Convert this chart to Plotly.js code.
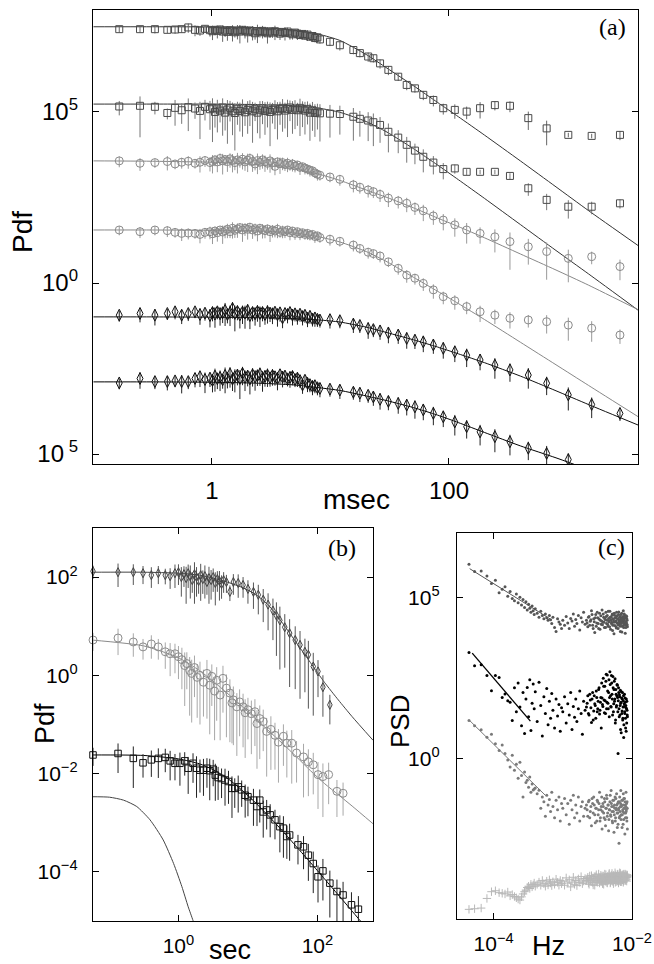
<!DOCTYPE html>
<html><head><meta charset="utf-8">
<script src="https://cdn.plot.ly/plotly-3.0.1.min.js"></script>
<style>html,body{margin:0;padding:0;background:#fff;}#chart{width:654px;height:964px;}</style>
</head><body><div id="chart"></div>
<script>
// ================= Panel (a): Pdf vs msec =================
const msecBins = [0.165,0.247,0.330,0.420,0.488,0.555,0.631,0.719,0.792,0.873,
 0.962,1.01,1.06,1.11,1.17,1.23,1.29,1.35,1.42,1.49,
 1.56,1.64,1.72,1.81,1.90,2.00,2.09,2.20,2.31,2.42,
 2.54,2.67,2.80,2.94,3.09,3.24,3.40,3.57,3.75,3.94,
 4.13,4.34,4.55,4.78,5.02,5.26,5.53,5.81,6.09,6.40,
 6.71,7.05,7.39,7.76,8.15,9.9,12.0,15.6,17.7,20.8,
 23.0,26.2,30.8,37.3,44.0,51.6,60.7,73.8,89.5,112,
 141,183,244,327,467,667,1016,1600,2773];
// values stored as log10(Pdf)
const pdfA1_log10 = [7.42,7.42,7.42,7.40,7.41,7.42,7.47,7.40,7.38,7.43,
 7.39,7.36,7.40,7.37,7.41,7.35,7.38,7.34,7.39,7.36,
 7.33,7.38,7.35,7.40,7.37,7.33,7.38,7.35,7.30,7.36,
 7.33,7.37,7.34,7.30,7.35,7.32,7.36,7.33,7.29,7.34,
 7.31,7.35,7.30,7.27,7.32,7.29,7.25,7.28,7.23,7.26,
 7.20,7.22,7.16,7.18,7.12,7.05,6.95,6.81,6.72,6.62,
 6.57,6.42,6.23,6.03,5.79,5.69,5.50,5.35,5.11,5.06,
 5.01,5.11,5.20,5.18,4.82,4.52,4.33,4.30,4.33];
const pdfA2_log10 = [5.16,5.18,5.15,4.97,5.12,5.05,5.14,5.10,5.03,5.15,
 5.08,5.12,5.00,5.10,5.04,5.13,4.98,5.07,5.12,5.02,
 4.97,5.08,5.03,5.10,4.99,5.06,5.11,5.02,5.08,4.98,
 5.05,5.10,5.03,5.07,5.00,5.06,5.10,5.02,5.08,5.12,
 5.04,5.09,5.13,5.06,5.10,5.05,5.12,5.08,5.04,5.09,
 4.98,5.05,4.97,5.01,4.96,4.95,4.94,4.86,4.80,4.75,
 4.70,4.62,4.42,4.25,4.04,3.87,3.69,3.52,3.33,3.35,
 3.25,3.25,3.25,3.13,2.77,2.43,2.23,2.23,2.33];
const pdfA3_log10 = [3.57,3.50,3.52,3.55,3.48,3.53,3.56,3.50,3.53,3.58,
 3.52,3.55,3.60,3.54,3.64,3.57,3.61,3.55,3.63,3.58,
 3.52,3.60,3.56,3.62,3.54,3.59,3.64,3.55,3.48,3.58,
 3.53,3.60,3.55,3.50,3.57,3.52,3.41,3.54,3.49,3.52,
 3.46,3.50,3.44,3.48,3.42,3.45,3.38,3.40,3.36,3.33,
 3.30,3.28,3.22,3.18,3.15,3.10,3.03,2.87,2.80,2.72,
 2.67,2.59,2.48,2.40,2.33,2.21,2.11,1.96,1.84,1.70,
 1.55,1.45,1.35,1.21,1.06,0.92,0.72,0.77,0.48];
const pdfA4_log10 = [1.55,1.50,1.55,1.53,1.48,1.45,1.46,1.45,1.42,1.48,
 1.50,1.44,1.52,1.47,1.55,1.49,1.53,1.57,1.50,1.60,
 1.54,1.58,1.62,1.55,1.60,1.57,1.63,1.55,1.59,1.52,
 1.60,1.56,1.53,1.58,1.50,1.55,1.52,1.57,1.48,1.53,
 1.50,1.55,1.47,1.52,1.45,1.50,1.44,1.47,1.42,1.45,
 1.40,1.42,1.36,1.38,1.33,1.28,1.22,1.11,1.01,0.90,
 0.86,0.79,0.62,0.43,0.23,0.14,-0.01,-0.20,-0.40,-0.52,
 -0.69,-0.84,-0.94,-1.03,-1.08,-1.13,-1.23,-1.32,-1.52];
const pdfA5_log10 = [-0.94,-0.89,-0.94,-0.89,-0.84,-0.94,-0.89,-0.84,-0.92,-0.88,
 -0.95,-0.86,-0.91,-0.84,-0.90,-0.87,-0.80,-0.92,-0.86,-0.74,
 -0.89,-0.83,-0.93,-0.85,-0.88,-0.80,-0.95,-0.86,-0.90,-0.83,
 -0.89,-0.86,-0.92,-0.84,-0.88,-0.90,-0.85,-0.93,-0.87,-1.02,
 -0.89,-0.92,-0.86,-0.94,-0.90,-0.96,-0.91,-0.98,-0.94,-1.03,
 -0.97,-1.05,-1.02,-1.06,-1.08,-1.07,-1.10,-1.20,-1.24,-1.33,
 -1.36,-1.40,-1.46,-1.52,-1.62,-1.67,-1.72,-1.81,-1.91,-2.01,
 -2.11,-2.25,-2.40,-2.54,-2.69,-2.93,-3.27,-3.55,-3.81];
const pdfA6_log10 = [-2.92,-2.79,-2.88,-2.88,-2.86,-2.88,-2.88,-2.79,-2.74,-2.82,
 -2.78,-2.85,-2.72,-2.80,-2.76,-2.83,-2.70,-2.78,-2.66,-2.81,
 -2.74,-2.69,-2.79,-2.64,-2.76,-2.72,-2.80,-2.68,-2.75,-2.71,
 -2.66,-2.78,-2.73,-2.69,-2.77,-2.70,-2.74,-2.79,-2.68,-2.75,
 -2.72,-2.80,-2.76,-2.73,-2.82,-2.78,-2.85,-2.98,-2.84,-2.93,
 -2.97,-3.02,-3.00,-3.06,-3.08,-3.10,-3.13,-3.19,-3.22,-3.28,
 -3.33,-3.40,-3.46,-3.52,-3.57,-3.62,-3.71,-3.81,-3.91,-4.06,
 -4.20,-4.35,-4.49,-4.64,-4.83,-4.98,-5.16,null,null];
// relative (linear) errors sigma/Pdf
const relErrA1 = [0.2,0.2,0.25,0.2,0.25,0.2,0.3,0.35,0.3,0.25,
 0.35,0.45,0.3,0.4,0.3,0.5,0.35,0.45,0.3,0.5,
 0.3,0.45,0.55,0.3,0.4,0.5,0.3,0.45,0.35,0.55,
 0.3,0.4,0.3,0.5,0.35,0.3,0.45,0.3,0.35,0.3,
 0.4,0.3,0.35,0.3,0.25,0.35,0.25,0.3,0.25,0.35,
 0.25,0.3,0.25,0.3,0.25,0.25,0.3,0.25,0.25,0.3,
 0.25,0.3,0.3,0.25,0.3,0.25,0.3,0.35,0.35,0.45,
 0.4,0.5,0.3,0.35,0.55,0.68,0.15,0.15,0.3];
const relErrA2 = [0.45,0.88,0.4,0.35,0.7,0.6,0.8,0.5,0.85,0.6,
 0.75,0.9,0.65,0.8,0.55,0.85,0.7,0.9,0.6,0.8,
 0.92,0.65,0.75,0.85,0.6,0.8,0.7,0.88,0.55,0.75,
 0.85,0.65,0.8,0.7,0.9,0.6,0.75,0.85,0.65,0.8,
 0.7,0.85,0.6,0.8,0.75,0.65,0.85,0.7,0.8,0.65,
 0.85,0.75,0.8,0.7,0.85,0.8,0.75,0.8,0.7,0.75,
 0.8,0.7,0.75,0.65,0.7,0.6,0.65,0.55,0.5,0.3,
 0.2,0.15,0.15,0.2,0.4,0.5,0.55,0.4,0.3];
const relErrA3 = [0.35,0.4,0.3,0.45,0.3,0.35,0.4,0.3,0.5,0.35,
 0.45,0.55,0.35,0.5,0.4,0.6,0.35,0.5,0.45,0.55,
 0.4,0.6,0.35,0.5,0.45,0.55,0.4,0.5,0.35,0.6,
 0.4,0.45,0.5,0.35,0.55,0.4,0.45,0.35,0.5,0.4,
 0.35,0.45,0.3,0.4,0.35,0.3,0.4,0.3,0.35,0.3,
 0.35,0.3,0.3,0.35,0.3,0.3,0.35,0.4,0.35,0.4,
 0.35,0.4,0.45,0.4,0.45,0.4,0.5,0.45,0.5,0.55,
 0.6,0.5,0.65,0.85,0.7,0.85,0.8,0.4,0.6];
const relErrA4 = [0.3,0.35,0.3,0.35,0.3,0.4,0.35,0.3,0.45,0.35,
 0.4,0.5,0.35,0.45,0.3,0.55,0.4,0.45,0.35,0.5,
 0.4,0.45,0.35,0.55,0.4,0.5,0.35,0.45,0.4,0.5,
 0.35,0.45,0.4,0.35,0.5,0.4,0.35,0.45,0.3,0.4,
 0.35,0.3,0.4,0.3,0.35,0.3,0.35,0.3,0.3,0.35,
 0.3,0.3,0.35,0.3,0.3,0.35,0.3,0.35,0.3,0.35,
 0.3,0.35,0.3,0.35,0.4,0.35,0.4,0.45,0.4,0.45,
 0.4,0.5,0.45,0.5,0.4,0.55,0.65,0.6,0.45];
const relErrA5 = [0.35,0.45,0.5,0.35,0.4,0.45,0.4,0.35,0.5,0.4,
 0.55,0.45,0.6,0.4,0.55,0.5,0.65,0.45,0.6,0.5,
 0.7,0.45,0.6,0.55,0.65,0.5,0.6,0.45,0.55,0.5,
 0.6,0.45,0.5,0.55,0.45,0.5,0.4,0.55,0.45,0.5,
 0.4,0.45,0.4,0.5,0.4,0.45,0.4,0.45,0.4,0.45,
 0.4,0.4,0.45,0.4,0.4,0.45,0.4,0.45,0.4,0.5,
 0.4,0.45,0.5,0.45,0.5,0.45,0.5,0.45,0.5,0.5,
 0.55,0.5,0.6,0.55,0.6,0.55,0.65,0.6,0.4];
const relErrA6 = [0.35,0.5,0.4,0.45,0.35,0.55,0.4,0.45,0.5,0.6,
 0.45,0.55,0.65,0.5,0.6,0.45,0.7,0.5,0.6,0.55,
 0.65,0.5,0.75,0.55,0.6,0.5,0.65,0.55,0.6,0.5,
 0.55,0.6,0.5,0.55,0.45,0.5,0.45,0.55,0.45,0.5,
 0.45,0.4,0.5,0.45,0.4,0.45,0.4,0.45,0.4,0.45,
 0.4,0.45,0.4,0.4,0.45,0.4,0.45,0.4,0.45,0.4,
 0.45,0.5,0.45,0.5,0.5,0.55,0.5,0.55,0.5,0.6,
 0.55,0.6,0.65,0.6,0.55,0.65,0.5,0,0];
// fitted curves, log10(Pdf)
const fitMsec = [0.1,0.3,1,2,3,5,8,12,20,30,50,80,120,200,400,800,1500,4000];
const fitA1_log10 = [7.49,7.49,7.486,7.47,7.45,7.39,7.27,7.09,6.68,6.28,5.77,5.28,4.86,4.32,3.57,2.81,2.12,1.08];
const fitA2_log10 = [5.23,5.23,5.23,5.22,5.21,5.18,5.11,4.99,4.72,4.41,3.93,3.45,3.02,2.47,1.71,0.95,0.27,-0.81];
const fitA3_log10 = [3.57,3.56,3.53,3.48,3.43,3.33,3.18,3.00,2.72,2.50,2.20,1.90,1.65,1.32,0.85,0.38,-0.06,-0.79];
const fitA4_log10 = [1.55,1.55,1.54,1.53,1.51,1.46,1.35,1.20,0.92,0.62,0.17,-0.24,-0.60,-1.07,-1.73,-2.39,-2.99,-3.92];
const fitA5_log10 = [-0.99,-0.99,-1.00,-1.01,-1.02,-1.04,-1.08,-1.14,-1.29,-1.45,-1.66,-1.87,-2.07,-2.33,-2.72,-3.15,-3.55,-4.16];
const fitA6_log10 = [-2.89,-2.89,-2.90,-2.92,-2.94,-2.98,-3.06,-3.14,-3.30,-3.44,-3.64,-3.86,-4.08,-4.37,-4.76,-5.11,-5.45,-5.95];

// ================= Panel (b): Pdf vs sec =================
const secB1 = [0.0589,0.135,0.224,0.309,0.407,0.513,0.646,0.759,0.891,1.00,
 1.10,1.20,1.29,1.38,1.48,1.58,1.70,1.82,1.95,2.09,2.24,2.40,2.57,2.75,2.95,3.16,3.39,3.63,3.89,4.17,4.47,4.90,
 5.50,6.17,7.24,8.51,10.0,12.0,14.1,16.6,19.5,22.9,25.7,28.8,33.9,39.8,47.9,56.2,66.1,74.1,87.1,102,120,151];
const pdfB1_log10 = [2.12,2.10,2.10,2.08,2.04,2.08,2.04,2.02,2.08,2.10,
 2.00,2.06,1.98,2.08,2.02,1.94,2.06,2.00,1.92,2.04,1.96,2.02,1.90,1.98,1.94,2.00,1.88,1.96,1.92,1.86,1.94,1.90,
 1.70,1.90,1.88,1.84,1.76,1.70,1.64,1.54,1.44,1.32,1.22,1.12,0.98,0.86,0.72,0.62,0.48,0.42,0.18,0.08,-0.24,-0.60];
const relErrB1 = [0.3,0.5,0.45,0.4,0.45,0.4,0.35,0.45,0.5,0.45,
 0.6,0.45,0.7,0.5,0.65,0.45,0.75,0.6,0.45,0.7,0.5,0.65,0.45,0.7,0.6,0.5,0.65,0.45,0.6,0.5,0.45,0.4,
 0.35,0.45,0.5,0.45,0.5,0.55,0.6,0.65,0.7,0.75,0.85,0.9,0.85,0.92,0.9,0.92,0.85,0.92,0.9,0.7,0.75,0.6];
const secB2 = [0.0589,0.135,0.224,0.309,0.407,0.513,0.646,0.759,0.891,1.00,
 1.12,1.23,1.32,1.45,1.55,1.70,1.86,2.04,2.29,2.57,
 2.82,3.02,3.31,3.55,3.98,4.37,4.90,5.50,5.89,6.17,
 6.92,7.59,8.51,9.12,10.0,11.2,12.6,13.5,14.8,16.6,
 18.6,21.4,24.5,27.5,32.4,36.3,42.7,50.1,63.1,74.1,
 87.1,102,120,145,191,234];
const pdfB2_log10 = [0.72,0.76,0.68,0.58,0.64,0.58,0.48,0.44,0.44,0.38,
 0.32,0.20,0.24,0.10,0.04,0.16,-0.04,0.00,-0.14,0.04,
 -0.20,-0.02,-0.32,-0.10,-0.40,-0.06,-0.26,-0.36,-0.56,-0.50,
 -0.64,-0.54,-0.64,-0.76,-0.70,-0.78,-0.74,-0.98,-0.88,-0.94,
 -1.14,-1.10,-1.22,-1.36,-1.24,-1.38,-1.38,-1.58,-1.66,-1.76,
 -1.82,-2.02,-2.06,-2.02,-2.36,-2.40];
const relErrB2 = [0.4,0.55,0.5,0.45,0.5,0.45,0.55,0.65,0.6,0.65,
 0.75,0.85,0.7,0.88,0.9,0.75,0.85,0.9,0.8,0.88,
 0.9,0.75,0.9,0.85,0.88,0.8,0.9,0.9,0.85,0.88,
 0.9,0.8,0.85,0.88,0.75,0.85,0.8,0.88,0.85,0.75,
 0.88,0.85,0.8,0.85,0.75,0.8,0.85,0.75,0.85,0.8,
 0.75,0.8,0.85,0.75,0.7,0.65];
const secB3 = [0.0589,0.135,0.224,0.309,0.407,0.513,0.646,0.759,0.891,1.05,
 1.23,1.38,1.62,1.82,2.04,2.29,2.57,2.82,3.16,3.39,
 3.72,4.17,4.68,5.25,5.89,6.46,7.24,8.13,9.12,10.0,
 12.0,13.5,14.8,16.6,18.6,20.9,24.5,28.8,32.4,36.3,
 39.8,52.5,63.1,74.1,87.1,102,120,151,191,234,
 309,389];
const pdfB3_log10 = [-1.62,-1.59,-1.69,-1.78,-1.72,-1.69,-1.67,-1.74,-1.79,-1.79,
 -1.74,-1.89,-1.79,-1.89,-1.93,-1.93,-1.89,-1.94,-1.91,-2.03,
 -2.08,-2.10,-2.13,-2.16,-2.30,-2.30,-2.27,-2.33,-2.44,-2.47,
 -2.54,-2.67,-2.54,-2.78,-2.74,-2.84,-2.94,-3.08,-3.11,-3.28,
 -3.25,-3.45,-3.49,-3.66,-3.83,-4.10,-3.98,-4.23,-4.40,-4.47,
 -4.67,-4.76];
const relErrB3 = [0.4,0.6,0.75,0.5,0.55,0.6,0.5,0.6,0.55,0.65,
 0.5,0.7,0.6,0.75,0.65,0.7,0.6,0.75,0.55,0.7,
 0.65,0.6,0.7,0.65,0.75,0.6,0.7,0.55,0.65,0.6,
 0.7,0.6,0.65,0.7,0.6,0.65,0.6,0.7,0.75,0.65,
 0.7,0.6,0.65,0.7,0.75,0.7,0.75,0.8,0.75,0.85,
 0.8,0.85];
const fitSec = [0.0562,0.316,1,2,3.16,5.01,7.94,12.6,20,31.6,50.1,79.4,126,200,316,631];
const fitB1_log10 = [2.10,2.10,2.08,2.04,1.98,1.90,1.80,1.66,1.42,1.06,0.66,0.26,-0.14,-0.50,-0.84,-1.32];
const fitB2_log10 = [0.72,0.60,0.36,0.10,-0.12,-0.36,-0.61,-0.87,-1.13,-1.39,-1.66,-1.94,-2.20,-2.43,-2.66,-3.02];
const fitB3_log10 = [-1.62,-1.63,-1.70,-1.80,-1.92,-2.09,-2.32,-2.58,-2.87,-3.17,-3.49,-3.81,-4.14,-4.47,-4.80,-5.30];
const gaussSec = [0.055,0.102,0.162,0.251,0.389,0.603,0.851,1.12,1.38,1.62,1.8];
const gauss_log10 = [-2.47,-2.48,-2.54,-2.67,-2.94,-3.35,-3.83,-4.30,-4.71,-4.99,-5.2];

// ================= Panel (c): PSD vs Hz =================
const freqHz = [4.4e-5,5.3e-5,6.6e-5,8.0e-5,9.3e-5,1.06e-4,1.2e-4,1.33e-4,1.46e-4,1.6e-4,
 1.73e-4,1.86e-4,2.0e-4,2.13e-4,2.26e-4,2.4e-4,2.53e-4,2.66e-4,2.8e-4,2.93e-4,
 3.06e-4,3.2e-4,3.33e-4,3.46e-4,3.6e-4,3.73e-4,3.86e-4,4.0e-4,
 4.26e-4,4.53e-4,4.8e-4,5.06e-4,5.33e-4,5.6e-4,5.86e-4,6.13e-4,6.4e-4,6.66e-4,6.93e-4,7.2e-4,7.6e-4,8.0e-4,8.4e-4,8.8e-4,9.2e-4,9.6e-4,
 1.0e-3,1.06e-3,1.12e-3,1.18e-3,1.24e-3,1.3e-3,1.36e-3,1.42e-3,1.48e-3,1.54e-3,1.6e-3,1.68e-3,1.76e-3,1.84e-3,1.92e-3,2.0e-3,2.1e-3,
 2.2e-3,2.3e-3,2.4e-3,2.5e-3,2.6e-3,2.7e-3,2.8e-3,2.9e-3,3.0e-3,3.1e-3,3.2e-3,3.3e-3,3.4e-3,3.5e-3,3.6e-3,3.7e-3,3.8e-3,3.9e-3,
 4.0e-3,4.1e-3,4.2e-3,4.3e-3,4.4e-3,4.5e-3,4.6e-3,4.7e-3,4.8e-3,4.9e-3,5.0e-3,5.1e-3,5.2e-3,5.3e-3,5.4e-3,5.5e-3,5.6e-3,5.7e-3,
 5.8e-3,5.9e-3,6.0e-3,6.1e-3,6.2e-3,6.3e-3,6.4e-3,6.5e-3,6.6e-3,6.7e-3,6.8e-3,6.9e-3,7.0e-3,7.1e-3,7.2e-3,7.3e-3,7.4e-3,7.5e-3,
 7.6e-3,7.7e-3,7.8e-3,7.9e-3,8.0e-3,8.1e-3,8.2e-3,8.3e-3,8.4e-3,8.5e-3,8.6e-3];
const psdC1_log10 = [6.05,5.82,5.84,5.68,5.45,5.55,5.16,5.27,5.35,5.05,
 5.20,4.98,4.91,5.12,4.85,5.02,4.78,4.95,4.70,4.88,
 4.62,4.80,4.68,4.55,4.75,4.60,4.48,4.66,4.52,4.40,
 4.58,4.45,4.35,4.50,4.38,4.30,4.45,4.32,4.20,4.40,
 4.08,3.95,4.35,4.25,4.18,4.05,
 4.30,4.15,4.42,4.22,4.05,4.36,4.28,4.50,4.12,4.33,
 4.20,4.45,4.00,4.38,4.25,4.55,4.18,4.30,4.10,4.42,
 4.27,4.60,4.15,4.35,3.92,4.48,4.22,4.38,4.05,4.52,
 4.30,4.18,4.62,4.25,4.40,4.08,4.33,4.55,4.20,4.45,
 4.12,4.36,4.28,4.58,4.02,4.40,4.24,4.50,4.15,4.32,
 3.88,4.46,4.26,4.38,4.10,4.55,4.22,4.35,4.05,4.48,
 4.30,4.18,4.42,3.95,4.36,4.25,4.52,4.12,4.40,4.28,
 4.60,4.08,4.34,4.20,4.45,3.90,4.38,4.26,4.15,4.42,
 4.30,4.10];
const psdC2_log10 = [3.30,2.89,2.92,2.58,2.11,2.58,2.52,1.90,2.01,1.80,
 1.75,1.18,2.20,1.45,2.35,1.60,1.02,2.05,0.78,1.85,
 2.21,1.30,2.45,0.87,1.72,2.32,1.55,2.08,1.15,2.37,
 1.65,0.70,1.92,1.40,2.18,1.05,1.78,1.25,2.02,1.50,
 0.95,1.85,1.32,1.68,0.85,1.58,
 1.45,1.92,1.10,1.70,1.35,2.05,0.90,1.62,1.28,1.85,1.15,1.55,2.10,1.40,0.75,1.78,1.50,
 1.60,1.95,1.35,1.82,1.12,2.05,1.48,1.70,1.25,1.90,
 1.55,2.15,1.38,1.75,0.95,1.88,1.62,2.25,1.42,1.80,
 2.40,1.55,2.60,1.72,2.05,1.30,2.70,1.95,1.60,2.35,
 1.85,2.55,1.45,2.15,1.78,2.48,1.20,2.00,1.65,2.30,
 1.90,0.15,2.20,1.55,1.98,1.35,2.12,1.72,0.80,1.88,
 1.48,2.05,1.25,1.80,0.65,1.62,2.00,1.40,1.75,0.95,
 1.58,1.85,1.10,1.50,1.30];
const psdC3_log10 = [1.18,1.02,0.89,0.66,0.75,0.46,0.25,0.42,0.15,-0.05,
 -0.27,0.10,-0.37,-0.18,-0.62,-0.12,-0.53,-1.20,-0.42,-0.75,
 -0.68,-0.90,-0.58,-1.05,-0.80,-0.98,-0.95,-0.92,-1.10,-0.99,
 -1.55,-1.20,-1.35,-1.80,-1.15,-1.45,-1.28,-1.65,-1.05,-1.50,
 -1.85,-1.30,-1.60,-1.20,-1.95,-1.40,
 -1.55,-1.25,-1.75,-1.40,-2.05,-1.30,-1.60,-1.15,-1.85,-1.45,-1.70,-1.20,-1.95,-1.50,-1.35,-1.80,-1.55,
 -1.45,-1.80,-1.30,-1.65,-2.10,-1.40,-1.20,-1.75,-1.55,-1.95,
 -1.35,-1.60,-1.05,-1.85,-1.50,-2.20,-1.40,-1.70,-1.25,-1.90,
 -1.55,-1.15,-1.80,-1.45,-2.25,-1.60,-1.35,-1.75,-1.00,-1.50,
 -1.95,-1.30,-1.65,-2.30,-1.45,-1.20,-1.85,-1.55,-1.10,-1.70,
 -1.40,-2.05,-1.60,-2.64,-1.35,-1.80,-1.50,-1.00,-1.75,-1.45,
 -2.15,-1.30,-1.65,-1.10,-1.90,-1.55,-1.25,-2.35,-1.45,-1.70,
 -1.05,-1.60,-1.85,-1.35,-2.20];
const psdC4_log10 = [-4.70,-4.68,-4.66,-4.36,-4.15,-4.12,-4.18,-4.20,-4.22,-4.16,
 -4.28,-4.24,-4.30,-4.34,-4.38,-4.41,-4.31,-4.22,-4.15,-4.10,
 -4.02,-3.98,-4.05,-3.92,-4.00,-3.94,-3.88,-3.98,-3.92,-3.85,
 -3.95,-3.80,-3.90,-3.98,-3.82,-3.94,-3.78,-3.88,-3.96,-3.84,
 -3.92,-3.76,-3.86,-3.95,-3.80,-3.90,
 -3.82,-3.95,-3.72,-3.88,-3.78,-4.00,-3.85,-3.70,-3.92,-3.80,-3.96,-3.75,-3.86,-3.68,-3.90,-3.82,-3.74,
 -3.80,-3.70,-3.92,-3.78,-3.65,-3.86,-3.74,-3.95,-3.68,-3.82,
 -3.76,-3.60,-3.88,-3.72,-3.84,-3.66,-3.78,-3.92,-3.70,-3.82,
 -3.62,-3.76,-3.88,-3.68,-3.80,-3.58,-3.74,-3.86,-3.70,-3.64,
 -3.82,-3.76,-3.90,-3.66,-3.78,-3.56,-3.72,-3.84,-3.68,-3.80,
 -3.62,-3.74,-3.88,-3.70,-3.66,-3.82,-3.58,-3.76,-3.72,-3.84,
 -3.64,-3.78,-3.70,-3.86,-3.62,-3.74,-3.68,-3.80,-3.60,-3.76,
 -3.72,-3.66,-3.82,-3.70,-3.64];
// interleaved high-frequency bins (same spectra, between the bins above)
const freqHzFine = [2.25e-3,2.35e-3,2.45e-3,2.55e-3,2.65e-3,2.75e-3,2.85e-3,2.95e-3,3.05e-3,3.15e-3,
 3.25e-3,3.35e-3,3.45e-3,3.55e-3,3.65e-3,3.75e-3,3.85e-3,3.95e-3,4.05e-3,4.15e-3,
 4.25e-3,4.35e-3,4.45e-3,4.55e-3,4.65e-3,4.75e-3,4.85e-3,4.95e-3,5.05e-3,5.15e-3,
 5.25e-3,5.35e-3,5.45e-3,5.55e-3,5.65e-3,5.75e-3,5.85e-3,5.95e-3,6.05e-3,6.15e-3,
 6.25e-3,6.35e-3,6.45e-3,6.55e-3,6.65e-3,6.75e-3,6.85e-3,6.95e-3,7.05e-3,7.15e-3,
 7.25e-3,7.35e-3,7.45e-3,7.55e-3,7.65e-3,7.75e-3,7.85e-3,7.95e-3,8.05e-3,8.15e-3,
 8.25e-3,8.35e-3,8.45e-3,8.55e-3];
const psdC1fine_log10 = [4.22,4.40,4.15,4.32,4.48,4.05,4.26,4.38,4.12,4.55,
 4.20,4.34,4.02,4.44,4.28,4.16,4.50,4.24,4.36,4.08,
 4.42,4.30,4.18,4.58,4.26,4.10,4.40,4.32,4.20,4.46,
 3.98,4.35,4.24,4.52,4.14,4.38,4.28,4.06,4.44,4.22,
 4.34,4.16,4.56,4.26,4.40,4.12,4.30,4.48,4.20,3.94,
 4.36,4.24,4.42,4.14,4.32,4.50,4.18,4.38,4.26,4.08,
 4.44,4.22,4.34,4.16];
const psdC2fine_log10 = [1.72,1.40,2.00,1.58,1.85,1.20,1.95,1.65,2.10,1.45,
 1.78,2.20,1.50,1.90,2.35,1.68,2.50,1.82,2.25,1.40,
 2.62,1.75,2.10,1.55,2.45,1.90,2.30,1.62,2.58,2.00,
 1.35,2.20,1.70,2.40,1.85,1.10,2.15,1.60,1.95,2.28,
 1.45,1.80,2.05,1.30,1.92,1.65,0.90,1.75,2.08,1.40,
 1.85,1.20,1.60,1.95,1.05,1.70,1.45,1.88,1.25,1.65,
 0.85,1.55,1.78,1.35];
const psdC3fine_log10 = [-1.60,-1.35,-1.85,-1.50,-1.25,-1.70,-1.45,-2.00,-1.55,-1.30,
 -1.75,-1.40,-1.95,-1.60,-1.20,-1.65,-1.50,-1.85,-1.35,-2.10,
 -1.55,-1.25,-1.70,-1.45,-1.90,-1.60,-1.15,-1.80,-1.40,-1.65,
 -2.00,-1.50,-1.30,-1.75,-1.55,-1.95,-1.25,-1.60,-1.45,-2.15,
 -1.70,-1.35,-1.55,-1.85,-1.20,-1.65,-1.40,-1.90,-1.50,-1.30,
 -1.75,-1.60,-2.05,-1.45,-1.25,-1.70,-1.55,-1.35,-1.85,-1.50,
 -1.65,-1.40,-1.95,-1.55];
const psdC4fine_log10 = [-3.75,-3.88,-3.66,-3.82,-3.72,-3.94,-3.68,-3.80,-3.62,-3.86,
 -3.74,-3.70,-3.84,-3.64,-3.78,-3.90,-3.66,-3.76,-3.60,-3.82,
 -3.72,-3.86,-3.68,-3.78,-3.62,-3.74,-3.88,-3.66,-3.80,-3.58,
 -3.72,-3.84,-3.64,-3.76,-3.70,-3.86,-3.62,-3.78,-3.68,-3.82,
 -3.60,-3.74,-3.66,-3.80,-3.56,-3.72,-3.84,-3.64,-3.76,-3.70,
 -3.62,-3.78,-3.68,-3.82,-3.60,-3.74,-3.66,-3.72,-3.80,-3.64,
 -3.70,-3.76,-3.62,-3.68];
const lineC1Hz = [4.5e-5, 6.6e-4], lineC1_log10 = [5.91, 4.34];
const lineC2Hz = [4.9e-5, 3.4e-4], lineC2_log10 = [3.28, 1.16];
const lineC3Hz = [4.5e-5, 5.6e-4], lineC3_log10 = [1.18, -1.15];

// ================= tick labels =================
const tickValsAy = [1e5, 1, 1e-5];
const tickTextAy = ['10<sup>5</sup>', '10<sup>0</sup>', '10<sup>\u00a05</sup>'];
const tickValsAx = [1, 100];
const tickTextAx = ['1', '100'];
const tickValsBy = [1e2, 1, 1e-2, 1e-4];
const tickTextBy = ['10<sup>2</sup>', '10<sup>0</sup>', '10<sup>\u22122</sup>', '10<sup>\u22124</sup>'];
const tickValsBx = [1, 100];
const tickTextBx = ['10<sup>0</sup>', '10<sup>2</sup>'];
const tickValsCy = [1e5, 1];
const tickTextCy = ['10<sup>5</sup>', '10<sup>0</sup>'];
const tickValsCx = [1e-4, 1e-2];
const tickTextCx = ['10<sup>\u22124</sup>', '10<sup>\u22122</sup>'];

// ================= build =================
const p10 = a => a.map(v => (v === null ? null : Math.pow(10, v)));
function errSeries(x, logy, rel, st, xa, ya, clip) {
  const y = p10(logy);
  return {x: x, y: y, type: 'scatter', mode: 'markers', xaxis: xa, yaxis: ya,
    cliponaxis: clip,
    marker: {symbol: st.symbol, size: st.size, color: st.color, line: {color: st.color, width: 1}},
    error_y: {type: 'data', symmetric: true, array: y.map((v, i) => (v === null ? null : v * rel[i])),
      visible: true, color: st.ecolor, thickness: 1, width: 0},
    hoverinfo: 'skip', showlegend: false};
}
function fitLine(x, logy, color, xa, ya, w) {
  return {x: x, y: p10(logy), type: 'scatter', mode: 'lines', xaxis: xa, yaxis: ya,
    line: {color: color, width: w || 1, shape: 'spline', smoothing: 0.6},
    hoverinfo: 'skip', showlegend: false};
}
function dots(x, logy, st, xa, ya) {
  return {x: x, y: p10(logy), type: 'scatter', mode: 'markers', xaxis: xa, yaxis: ya,
    marker: {symbol: st.symbol, size: st.size, color: st.color, line: {color: st.color, width: st.lw || 0}},
    hoverinfo: 'skip', showlegend: false};
}

const sqDark = {symbol: 'square-open', size: 7, color: '#4a4a4a', ecolor: '#666'};
const sqDark2 = {symbol: 'square-open', size: 7, color: '#4a4a4a', ecolor: '#777'};
const ciGray = {symbol: 'circle-open', size: 8, color: '#8a8a8a', ecolor: '#999'};
const diBlack = {symbol: 'diamond-tall-open', size: 8.5, color: '#111', ecolor: '#222'};
const stC1 = {symbol: 'circle', size: 3, color: '#555'};
const stC2 = {symbol: 'circle', size: 3, color: '#000'};
const stC3 = {symbol: 'circle', size: 3, color: '#7a7a7a'};
const stC4 = {symbol: 'cross-thin-open', size: 6, color: '#b8b8b8', lw: 1};

const traces = [
  fitLine(fitMsec, fitA1_log10, '#333', 'x', 'y'),
  fitLine(fitMsec, fitA2_log10, '#333', 'x', 'y'),
  fitLine(fitMsec, fitA3_log10, '#888', 'x', 'y'),
  fitLine(fitMsec, fitA4_log10, '#888', 'x', 'y'),
  fitLine(fitMsec, fitA5_log10, '#111', 'x', 'y'),
  fitLine(fitMsec, fitA6_log10, '#000', 'x', 'y'),
  errSeries(msecBins, pdfA1_log10, relErrA1, sqDark, 'x', 'y', true),
  errSeries(msecBins, pdfA2_log10, relErrA2, sqDark2, 'x', 'y', true),
  errSeries(msecBins, pdfA3_log10, relErrA3, ciGray, 'x', 'y', true),
  errSeries(msecBins, pdfA4_log10, relErrA4, ciGray, 'x', 'y', true),
  errSeries(msecBins, pdfA5_log10, relErrA5, diBlack, 'x', 'y', true),
  errSeries(msecBins, pdfA6_log10, relErrA6, diBlack, 'x', 'y', true),

  fitLine(fitSec, fitB1_log10, '#444', 'x2', 'y2'),
  fitLine(fitSec, fitB2_log10, '#8a8a8a', 'x2', 'y2'),
  fitLine(fitSec, fitB3_log10, '#000', 'x2', 'y2'),
  fitLine(gaussSec, gauss_log10, '#444', 'x2', 'y2'),
  errSeries(secB2, pdfB2_log10, relErrB2, {symbol: 'circle-open', size: 8, color: '#8c8c8c', ecolor: '#a8a8a8'}, 'x2', 'y2', false),
  errSeries(secB1, pdfB1_log10, relErrB1, {symbol: 'diamond-tall-open', size: 6.5, color: '#444', ecolor: '#555'}, 'x2', 'y2', false),
  errSeries(secB3, pdfB3_log10, relErrB3, {symbol: 'square-open', size: 6.5, color: '#111', ecolor: '#222'}, 'x2', 'y2', false),

  dots(freqHz, psdC4_log10, stC4, 'x3', 'y3'),
  dots(freqHzFine, psdC4fine_log10, stC4, 'x3', 'y3'),
  dots(freqHz, psdC3_log10, stC3, 'x3', 'y3'),
  dots(freqHzFine, psdC3fine_log10, stC3, 'x3', 'y3'),
  dots(freqHz, psdC2_log10, stC2, 'x3', 'y3'),
  dots(freqHzFine, psdC2fine_log10, stC2, 'x3', 'y3'),
  dots(freqHz, psdC1_log10, stC1, 'x3', 'y3'),
  dots(freqHzFine, psdC1fine_log10, stC1, 'x3', 'y3'),
  fitLine(lineC1Hz, lineC1_log10, '#555', 'x3', 'y3'),
  fitLine(lineC2Hz, lineC2_log10, '#000', 'x3', 'y3', 1.3),
  fitLine(lineC3Hz, lineC3_log10, '#777', 'x3', 'y3')
];

const W = 654, H = 964;
const px = v => v / W, py = v => 1 - v / H;
const SANS = 'Liberation Sans, Arial, Helvetica, sans-serif';
const SERIF = 'Liberation Serif, Times New Roman, serif';
function ax(extra) {
  return Object.assign({type: 'log', showgrid: false, zeroline: false, showline: true,
    linecolor: '#000', linewidth: 1.2, mirror: 'ticks', ticks: 'inside', ticklen: 6,
    tickwidth: 1, tickcolor: '#000', tickmode: 'array', fixedrange: true}, extra);
}
function ann(text, x, y, size, family, angle) {
  const a = {text: text, x: px(x), y: py(y), xref: 'paper', yref: 'paper', showarrow: false,
    xanchor: 'center', yanchor: 'middle', font: {family: family, size: size, color: '#000'}};
  if (angle) a.textangle = angle;
  return a;
}
const layout = {
  width: W, height: H, autosize: false, paper_bgcolor: '#fff', plot_bgcolor: '#fff',
  margin: {l: 0, r: 0, t: 0, b: 0}, showlegend: false,
  xaxis: ax({domain: [px(93), px(638)], range: [-1.004, 3.595], anchor: 'y',
    tickvals: tickValsAx, ticktext: tickTextAx, tickfont: {family: SANS, size: 24, color: '#000'}, ticklabelstandoff: 5}),
  yaxis: ax({domain: [py(464), py(10)], range: [-5.29, 7.98], anchor: 'x',
    tickvals: tickValsAy, ticktext: tickTextAy, tickfont: {family: SANS, size: 24, color: '#000'}, ticklabelstandoff: 9}),
  xaxis2: ax({domain: [px(93), px(373)], range: [-1.23, 2.80], anchor: 'y2',
    tickvals: tickValsBx, ticktext: tickTextBx, tickfont: {family: SANS, size: 21, color: '#000'}, ticklabelstandoff: 6}),
  yaxis2: ax({domain: [py(921), py(528)], range: [-5.0, 3.0], anchor: 'x2',
    tickvals: tickValsBy, ticktext: tickTextBy, tickfont: {family: SANS, size: 21, color: '#000'}, ticklabelstandoff: 10}),
  xaxis3: ax({domain: [px(457), px(632)], range: [-4.53, -1.999], anchor: 'y3',
    tickvals: tickValsCx, ticktext: tickTextCx, tickfont: {family: SANS, size: 21, color: '#000'}, ticklabelstandoff: 6}),
  yaxis3: ax({domain: [py(919), py(533)], range: [-5.0, 7.02], anchor: 'x3',
    tickvals: tickValsCy, ticktext: tickTextCy, tickfont: {family: SANS, size: 21, color: '#000'}, ticklabelstandoff: 12}),
  annotations: [
    ann('(a)', 612, 27, 24, SERIF),
    ann('(b)', 342, 548, 24, SERIF),
    ann('(c)', 611, 547, 24, SERIF),
    ann('Pdf', 22, 232, 28, SANS, -90),
    ann('msec', 356, 499, 28, SANS),
    ann('Pdf', 45, 724, 27, SANS, -90),
    ann('sec', 230, 950, 27, SANS),
    ann('PSD', 400, 722, 26, SANS, -90),
    ann('Hz', 548, 946, 27, SANS)
  ]
};
Plotly.newPlot('chart', traces, layout, {staticPlot: true, displayModeBar: false});
</script></body></html>
